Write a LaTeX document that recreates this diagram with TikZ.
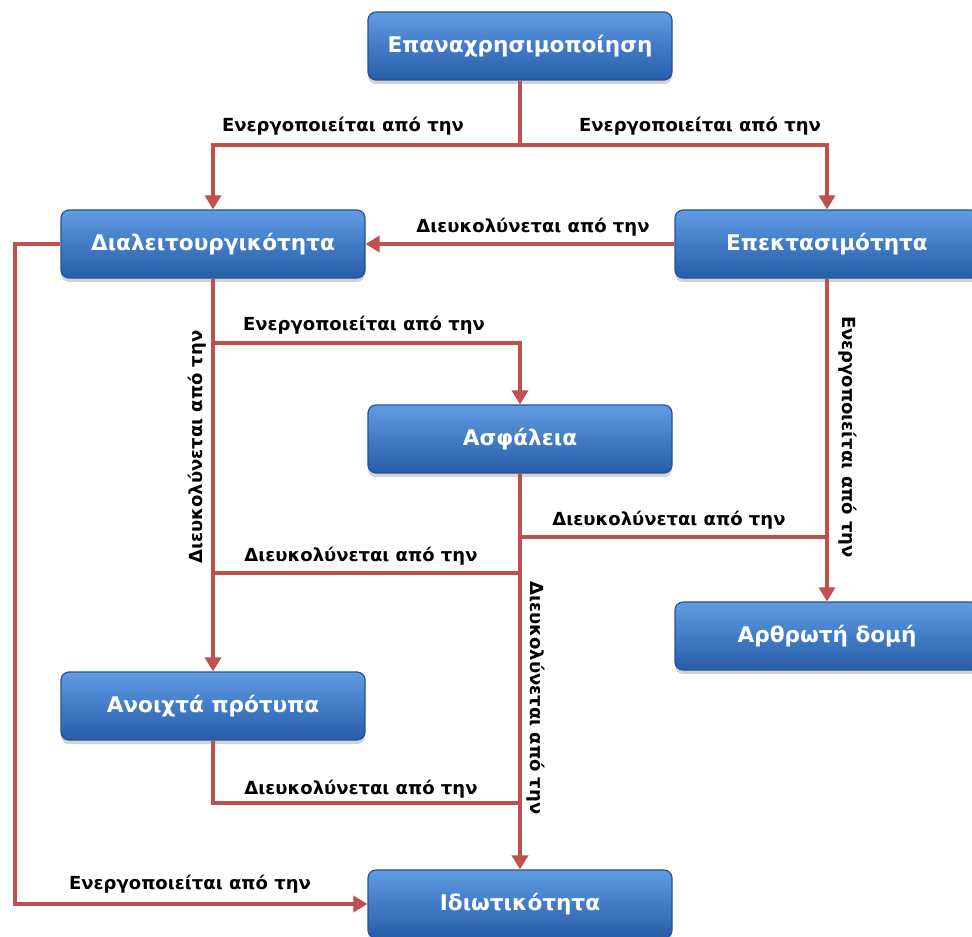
\documentclass[tikz,border=0pt]{standalone}
\usepackage{fontspec}
\setmainfont{DejaVu Sans}
\usetikzlibrary{arrows.meta,shadows}
\definecolor{linkred}{RGB}{192,80,77}
\definecolor{boxtop}{RGB}{96,156,228}
\definecolor{boxmid}{RGB}{58,122,205}
\definecolor{boxbottom}{RGB}{38,92,168}
\definecolor{boxrim}{RGB}{36,82,152}

\begin{document}
\begin{tikzpicture}[x=0.5pt, y=-0.5pt]
        \tikzstyle{topic}=[rectangle,rounded corners=4pt,draw=boxrim,line width=0.6pt,top color=boxtop,middle color=boxmid,bottom color=boxbottom,minimum width=152pt,minimum height=34pt,text=white,font=\fontsize{10.8}{13}\selectfont\bfseries,drop shadow={shadow xshift=0pt,shadow yshift=-2pt,opacity=0.35}]
        \tikzstyle{link}=[draw=linkred,line width=2pt]
        \tikzstyle{pointed}=[-{Triangle[length=7pt,width=8pt]}]
        \tikzstyle{lbl}=[font=\fontsize{9}{11}\selectfont\bfseries,inner sep=1pt]

        \useasboundingbox (0,0) rectangle (972,936);

        \node[topic] (reuse) at (520,46) {Επαναχρησιμοποίηση};
        \node[topic] (interop) at (213,244) {Διαλειτουργικότητα};
        \node[topic] (extend) at (827,244) {Επεκτασιμότητα};
        \node[topic] (secure) at (520,439) {Ασφάλεια};
        \node[topic] (modular) at (827,636) {Αρθρωτή δομή};
        \node[topic] (openstd) at (213,706) {Ανοιχτά πρότυπα};
        \node[topic] (privacy) at (520,904) {Ιδιωτικότητα};

        % rows and column where the connectors turn
        \coordinate (row_a) at (0,145);
        \coordinate (row_b) at (0,343);
        \coordinate (row_c) at (0,537);
        \coordinate (row_d) at (0,573);
        \coordinate (row_e) at (0,803);
        \coordinate (col_a) at (15,0);

        \draw[link,pointed] (reuse.south) -- (reuse.south |- row_a) -| (interop.north);
        \draw[link,pointed] (reuse.south |- row_a) -| (extend.north);
        \draw[link,pointed] (extend.west) -- (interop.east);
        \draw[link,pointed] (interop.south) -- (interop.south |- row_b) -| (secure.north);
        \draw[link,pointed] (interop.south) -- (openstd.north);
        \draw[link] (secure.south) |- (openstd.north |- row_d);
        \draw[link,pointed] (secure.south) -- (privacy.north);
        \draw[link,pointed] (extend.south) -- (modular.north);
        \draw[link] (extend.south |- row_c) -- (secure.south |- row_c);
        \draw[link] (openstd.south) |- (privacy.north |- row_e);
        \draw[link,pointed] (interop.west) -- (interop.west -| col_a) |- (privacy.west);

        \node[lbl] (L_1) at (343,126) {Ενεργοποιείται από την};
        \node[lbl] (L_2) at (700,126) {Ενεργοποιείται από την};
        \node[lbl] (L_3) at (533,227) {Διευκολύνεται από την};
        \node[lbl] (L_4) at (364,325) {Ενεργοποιείται από την};
        \node[lbl,rotate=90] (L_5) at (197,447) {Διευκολύνεται από την};
        \node[lbl] (L_6) at (361,556) {Διευκολύνεται από την};
        \node[lbl,rotate=-90] (L_7) at (536,698) {Διευκολύνεται από την};
        \node[lbl,rotate=-90] (L_8) at (848,437) {Ενεργοποιείται από την};
        \node[lbl] (L_9) at (669,520) {Διευκολύνεται από την};
        \node[lbl] (L_10) at (361,789) {Διευκολύνεται από την};
        \node[lbl] (L_11) at (190,884) {Ενεργοποιείται από την};
\end{tikzpicture}
\end{document}
